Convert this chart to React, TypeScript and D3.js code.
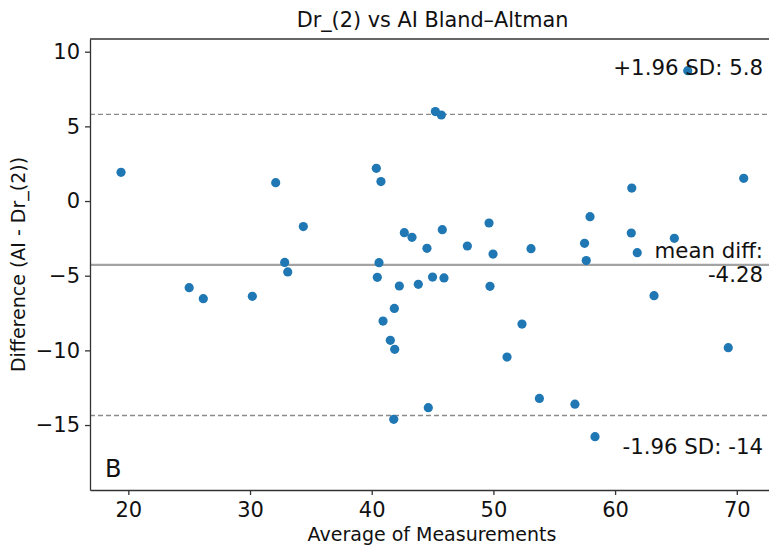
import * as d3 from "d3";
import React, { useEffect, useRef } from "react";

// average of the two measurements
const avgValues: number[] = [
  19.4, 25.0, 26.16, 30.19, 32.11, 32.85, 33.1, 34.38, 40.38, 40.76, 40.6, 40.46,
  40.93, 41.53, 41.89, 41.86, 41.81, 42.27, 42.68, 43.31, 43.83, 44.54, 44.65, 45.0,
  45.23, 45.72, 45.8, 45.94, 47.86, 49.64, 49.72, 49.97, 51.12, 52.35, 53.09, 53.78,
  56.7, 57.49, 57.63, 57.94, 58.35, 61.33, 61.37, 61.82, 63.2, 64.87, 65.97, 69.3,
  70.57,
];
// AI - Dr_(2)
const diffValues: number[] = [
  1.92, -5.8, -6.54, -6.38, 1.23, -4.11, -4.75, -1.71, 2.19, 1.3, -4.13, -5.11,
  -8.04, -9.33, -9.93, -7.19, -14.62, -5.69, -2.12, -2.43, -5.58, -3.17, -13.84, -5.09,
  5.99, 5.76, -1.92, -5.15, -3.01, -1.47, -5.71, -3.55, -10.45, -8.24, -3.19, -13.22,
  -13.6, -2.83, -3.99, -1.05, -15.78, -2.14, 0.87, -3.46, -6.34, -2.5, 8.73, -9.82,
  1.52,
];
const meanDiff = -4.28;
const upperLoA = 5.8;
const lowerLoA = -14.36;
const xTicks = [20, 30, 40, 50, 60, 70];
const yTicks = [10, 5, 0, -5, -10, -15];

const W = 769;
const H = 546;
const FONT = "'DejaVu Sans', sans-serif";

export default function App() {
  const svgRef = useRef<SVGSVGElement>(null);

  useEffect(() => {
    document.body.style.margin = "0";
    if (!svgRef.current) return;
    const svg = d3.select(svgRef.current);
    svg.selectAll("*").remove();

    const margin = { top: 39, right: -6, bottom: 56, left: 90 };
    const x = d3.scaleLinear().domain([16.85, 73.14]).range([margin.left, W - margin.right]);
    const y = d3.scaleLinear().domain([-19.35, 10.85]).range([H - margin.bottom, margin.top]);

    svg.append("rect").attr("width", W).attr("height", H).attr("fill", "white");

    // reference lines
    const hline = (v: number, color: string, width: number, dash: string | null) =>
      svg
        .append("line")
        .attr("x1", margin.left)
        .attr("x2", W - margin.right)
        .attr("y1", y(v))
        .attr("y2", y(v))
        .attr("stroke", color)
        .attr("stroke-width", width)
        .attr("stroke-dasharray", dash);
    hline(meanDiff, "#a3a3a3", 2.2, null);
    hline(upperLoA, "#8a8a8a", 1.4, "5,3");
    hline(lowerLoA, "#8a8a8a", 1.4, "5,3");

    svg
      .append("g")
      .selectAll("circle")
      .data(d3.zip(avgValues, diffValues))
      .enter()
      .append("circle")
      .attr("cx", (d) => x(d[0]))
      .attr("cy", (d) => y(d[1]))
      .attr("r", 4.6)
      .attr("fill", "#1f77b4");

    // axes
    const xAxis = svg
      .append("g")
      .attr("transform", `translate(0,${H - margin.bottom})`)
      .call(
        d3
          .axisBottom(x)
          .tickValues(xTicks)
          .tickSize(5)
          .tickSizeOuter(0)
          .tickPadding(7)
          .tickFormat(d3.format("d")),
      );
    const yAxis = svg
      .append("g")
      .attr("transform", `translate(${margin.left},0)`)
      .call(
        d3
          .axisLeft(y)
          .tickValues(yTicks)
          .tickSize(5)
          .tickSizeOuter(0)
          .tickPadding(5)
          .tickFormat((d) => (Number(d) < 0 ? "\u2212" + Math.abs(Number(d)) : String(d))),
      );
    for (const g of [xAxis, yAxis]) {
      g.select(".domain").attr("stroke", "#333").attr("stroke-width", 1.3);
      g.selectAll(".tick line").attr("stroke", "#333").attr("stroke-width", 1.3);
      g.selectAll("text").attr("fill", "#111").style("font-family", FONT).style("font-size", "21px");
    }
    // top spine
    svg
      .append("line")
      .attr("x1", margin.left)
      .attr("x2", W)
      .attr("y1", margin.top)
      .attr("y2", margin.top)
      .attr("stroke", "#333")
      .attr("stroke-width", 1.3);

    const text = (tx: number, ty: number, s: string, size: number, anchor = "end", font = FONT) =>
      svg
        .append("text")
        .attr("x", tx)
        .attr("y", ty)
        .attr("text-anchor", anchor)
        .style("font-family", font)
        .style("font-size", `${size}px`)
        .attr("fill", "#111")
        .text(s);

    text(763, 75, "+1.96 SD: 5.8", 21.3);
    text(763, 258, "mean diff:", 21.3);
    text(763, 282, "-4.28", 21.3);
    text(763, 454, "-1.96 SD: -14", 21.3);
    text(105, 477, "B", 24, "start", "'Liberation Sans Narrow', 'DejaVu Sans', sans-serif");

    text(432.5, 27, "Dr_(2) vs AI Bland\u2013Altman", 20.8, "middle");
    text(432, 541, "Average of Measurements", 19, "middle");
    svg
      .append("text")
      .attr("transform", `translate(25,${(margin.top + H - margin.bottom) / 2}) rotate(-90)`)
      .attr("text-anchor", "middle")
      .style("font-family", FONT)
      .style("font-size", "19px")
      .attr("fill", "#111")
      .text("Difference (AI - Dr_(2))");
  }, []);

  return <svg ref={svgRef} width={W} height={H} style={{ display: "block" }} />;
}
